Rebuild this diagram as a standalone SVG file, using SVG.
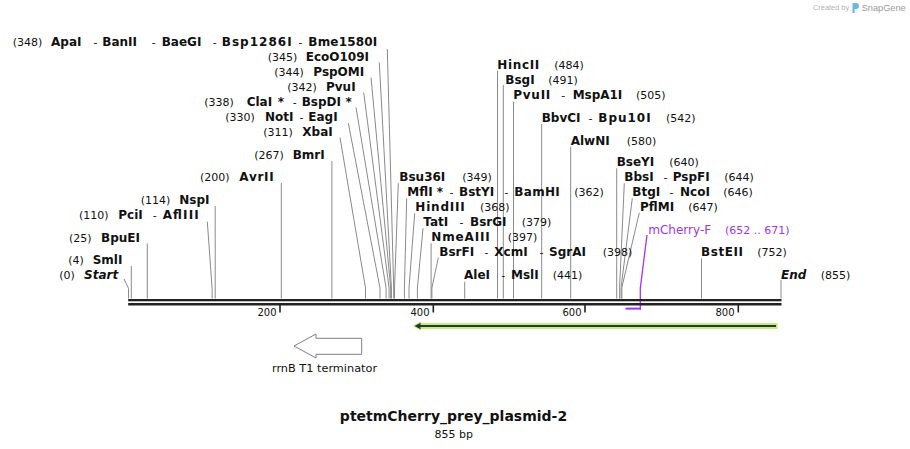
<svg xmlns="http://www.w3.org/2000/svg" width="910" height="449" viewBox="0 0 910 449">
<style>
text{font-family:"DejaVu Sans",Verdana,sans-serif;fill:#111}
.n{font-size:11px}
.b{font-size:12px;font-weight:bold}
.bi{font-size:12px;font-weight:bold;font-style:italic}
.d{font-size:11px}
.tk{font-size:10px}
.cr{font-family:"Liberation Sans",Arial,sans-serif}
.ld{fill:none;stroke:#8a8a8a;stroke-width:1}
.pr{fill:none;stroke:#a035f0;stroke-width:1.3}
</style>
<rect width="910" height="449" fill="#fff"/>

<g id="credit">
<text class="cr" x="813" y="10" style="font-size:7.4px;fill:#b0b0b0">Created by</text>
<path d="M852.5,3 h3.5 a3,3 0 0 1 0,6 h-1.3 v4 h-2.2 z" fill="#6ab8ea"/>
<text class="cr" x="861.7" y="11" style="font-size:9.2px;fill:#9a9a9a">SnapGene</text>
</g>

<g id="connectors">
<polyline class="ld" points="387.3,49 393.7,288 393.7,298.5"/>
<polyline class="ld" points="379.3,62.5 391.4,288 391.4,298.5"/>
<polyline class="ld" points="371,77.5 390.7,288 390.7,298.5"/>
<polyline class="ld" points="363.7,92.5 389.1,288 389.1,298.5"/>
<polyline class="ld" points="356,107.5 386.1,288 386.1,298.5"/>
<polyline class="ld" points="348.3,123 380,288 380,298.5"/>
<polyline class="ld" points="340,137.5 365.5,288 365.5,298.5"/>
<line class="ld" x1="331.9" y1="161" x2="331.9" y2="298.5"/>
<line class="ld" x1="281.3" y1="183" x2="281.3" y2="298.5"/>
<line class="ld" x1="215.2" y1="206" x2="215.2" y2="298.5"/>
<polyline class="ld" points="207.3,221.7 212.1,288.3 212.1,298.5"/>
<line class="ld" x1="147.3" y1="243.5" x2="147.3" y2="298.5"/>
<line class="ld" x1="131.3" y1="266" x2="131.3" y2="298.5"/>
<polyline class="ld" points="124,279 128.5,288.3 128.5,298.5"/>

<line class="ld" x1="497.5" y1="70.7" x2="497.5" y2="298.5"/>
<line class="ld" x1="503.3" y1="85" x2="503.3" y2="298.5"/>
<line class="ld" x1="513.5" y1="101.7" x2="513.5" y2="298.5"/>
<line class="ld" x1="541.7" y1="124" x2="541.7" y2="298.5"/>
<line class="ld" x1="570.7" y1="146.7" x2="570.7" y2="298.5"/>
<line class="ld" x1="616.7" y1="168.3" x2="616.7" y2="298.5"/>
<polyline class="ld" points="624.3,183.3 619.6,287.3 619.6,298.5"/>
<polyline class="ld" points="632.3,198.3 621.1,287.3 621.1,298.5"/>
<polyline class="ld" points="639.3,212.7 621.9,287.3 621.9,298.5"/>
<line class="ld" x1="701.5" y1="258.3" x2="701.5" y2="298.5"/>
<line class="ld" x1="781" y1="280" x2="781" y2="298.5"/>
<polyline class="ld" points="398.3,183.3 394.5,288 394.5,298.5"/>
<polyline class="ld" points="406.7,198.3 404.4,288 404.4,298.5"/>
<polyline class="ld" points="414.7,213.3 409,288 409,298.5"/>
<polyline class="ld" points="423,228.3 417.4,288 417.4,298.5"/>
<line class="ld" x1="431.1" y1="243.3" x2="431.1" y2="298.5"/>
<polyline class="ld" points="438.3,257.7 431.9,288 431.9,298.5"/>
<line class="ld" x1="464.7" y1="281.7" x2="464.7" y2="298.5"/>
<polyline class="pr" points="647,235 640.3,288.3 640.3,309.5"/>
</g>

<g id="sequence-axis">
<rect x="128.2" y="299" width="653.3" height="2.3" fill="#222"/>
<rect x="128.2" y="303" width="653.3" height="2.5" fill="#222"/>
<rect x="279.2" y="305" width="1.6" height="7.5" fill="#222"/>
<rect x="432.5" y="305" width="1.6" height="7.5" fill="#222"/>
<rect x="584.2" y="305" width="1.6" height="7.5" fill="#222"/>
<rect x="737.5" y="305" width="1.6" height="7.5" fill="#222"/>
<text class="tk" x="276.5" y="316" text-anchor="end">200</text>
<text class="tk" x="429.5" y="316" text-anchor="end">400</text>
<text class="tk" x="581.5" y="316" text-anchor="end">600</text>
<text class="tk" x="734.5" y="316" text-anchor="end">800</text>
</g>

<g id="primer-mCherry-F">
<line x1="625.5" y1="308.6" x2="641" y2="308.6" stroke="#a035f0" stroke-width="2"/>
<text x="648.3" y="234" style="font-size:12px;fill:#a035f0">mCherry-F</text>
<text x="725" y="234" style="font-size:11px;fill:#a035f0">(652 .. 671)</text>
</g>

<g id="feature-orf">
<path d="M777.7,326 H419" stroke="#bdf080" stroke-width="6" fill="none"/>
<polygon points="412.5,326 421,321.5 421,330.5" fill="#bdf080"/>
<path d="M776,326 H419" stroke="#333" stroke-width="1.8" fill="none"/>
<polygon points="414.5,326 420.5,322.8 420.5,329.2" fill="#333"/>
</g>

<g id="feature-rrnB">
<polygon points="294,346 316,334 316,338.3 361.7,338.3 361.7,354.3 316,354.3 316,358" fill="#fff" stroke="#808080" stroke-width="1"/>
<text x="324.5" y="371.7" text-anchor="middle" style="font-size:11.3px">rrnB T1 terminator</text>
</g>

<g id="site-348"><text y="45.5"><tspan class="n" x="12.7">(348)</tspan><tspan class="b" x="51">ApaI</tspan><tspan class="d" x="93.4">-</tspan><tspan class="b" x="102.3">BanII</tspan><tspan class="d" x="151.7">-</tspan><tspan class="b" x="161.7">BaeGI</tspan><tspan class="d" x="212.7">-</tspan><tspan class="b" x="221.7" textLength="70">Bsp1286I</tspan><tspan class="d" x="298.4">-</tspan><tspan class="b" x="308.3" textLength="69">Bme1580I</tspan></text></g>
<g id="site-345"><text y="61"><tspan class="n" x="267.7">(345)</tspan><tspan class="b" x="305.7">EcoO109I</tspan></text></g>
<g id="site-344"><text y="76"><tspan class="n" x="274.3">(344)</tspan><tspan class="b" x="313.3">PspOMI</tspan></text></g>
<g id="site-342"><text y="91"><tspan class="n" x="287.3">(342)</tspan><tspan class="b" x="326">PvuI</tspan></text></g>
<g id="site-338"><text y="106"><tspan class="n" x="204.3">(338)</tspan><tspan class="b" x="246.7">ClaI</tspan><tspan class="b" x="277.8">*</tspan><tspan class="d" x="292.7">-</tspan><tspan class="b" x="301.7">BspDI</tspan><tspan class="b" x="345.5">*</tspan></text></g>
<g id="site-330"><text y="121"><tspan class="n" x="225.3">(330)</tspan><tspan class="b" x="265">NotI</tspan><tspan class="d" x="299.5">-</tspan><tspan class="b" x="308.3">EagI</tspan></text></g>
<g id="site-311"><text y="136"><tspan class="n" x="263.3">(311)</tspan><tspan class="b" x="302.3">XbaI</tspan></text></g>
<g id="site-267"><text y="159"><tspan class="n" x="254.3">(267)</tspan><tspan class="b" x="292.7">BmrI</tspan></text></g>
<g id="site-200"><text y="181"><tspan class="n" x="200">(200)</tspan><tspan class="b" x="239.3" textLength="34.5">AvrII</tspan></text></g>
<g id="site-114"><text y="204"><tspan class="n" x="140.7">(114)</tspan><tspan class="b" x="179.3">NspI</tspan></text></g>
<g id="site-110"><text y="219"><tspan class="n" x="79">(110)</tspan><tspan class="b" x="118.3">PciI</tspan><tspan class="d" x="152.7">-</tspan><tspan class="b" x="162.7" textLength="36">AflIII</tspan></text></g>
<g id="site-25"><text y="242"><tspan class="n" x="69">(25)</tspan><tspan class="b" x="101">BpuEI</tspan></text></g>
<g id="site-4"><text y="264"><tspan class="n" x="68.3">(4)</tspan><tspan class="b" x="92.7">SmlI</tspan></text></g>
<g id="site-0"><text y="279"><tspan class="n" x="59.3">(0)</tspan><tspan class="bi" x="84">Start</tspan></text></g>

<g id="site-484"><text y="69"><tspan class="b" x="497.3" textLength="42">HincII</tspan><tspan class="n" x="554.3">(484)</tspan></text></g>
<g id="site-491"><text y="84"><tspan class="b" x="505.3">BsgI</tspan><tspan class="n" x="548.3">(491)</tspan></text></g>
<g id="site-505"><text y="99"><tspan class="b" x="513.3" textLength="37">PvuII</tspan><tspan class="d" x="561.2">-</tspan><tspan class="b" x="572.7" textLength="49.5">MspA1I</tspan><tspan class="n" x="636">(505)</tspan></text></g>
<g id="site-542"><text y="122"><tspan class="b" x="541.7">BbvCI</tspan><tspan class="d" x="588.5">-</tspan><tspan class="b" x="598.3" textLength="52.3">Bpu10I</tspan><tspan class="n" x="666">(542)</tspan></text></g>
<g id="site-580"><text y="144.5"><tspan class="b" x="570.7">AlwNI</tspan><tspan class="n" x="626.7">(580)</tspan></text></g>
<g id="site-640"><text y="166"><tspan class="b" x="616.7">BseYI</tspan><tspan class="n" x="669.3">(640)</tspan></text></g>
<g id="site-644"><text y="181"><tspan class="b" x="624.3">BbsI</tspan><tspan class="d" x="663.5">-</tspan><tspan class="b" x="672.7">PspFI</tspan><tspan class="n" x="724.3">(644)</tspan></text></g>
<g id="site-646"><text y="196"><tspan class="b" x="632.3">BtgI</tspan><tspan class="d" x="669.5">-</tspan><tspan class="b" x="680">NcoI</tspan><tspan class="n" x="723.3">(646)</tspan></text></g>
<g id="site-647"><text y="211"><tspan class="b" x="640">PflMI</tspan><tspan class="n" x="688.3">(647)</tspan></text></g>
<g id="site-752"><text y="256"><tspan class="b" x="701" textLength="42">BstEII</tspan><tspan class="n" x="757.3">(752)</tspan></text></g>
<g id="site-855"><text y="279"><tspan class="bi" x="781">End</tspan><tspan class="n" x="820.7">(855)</tspan></text></g>
<g id="site-349"><text y="181"><tspan class="b" x="399.3">Bsu36I</tspan><tspan class="n" x="462.3">(349)</tspan></text></g>
<g id="site-362"><text y="196"><tspan class="b" x="407.3">MflI</tspan><tspan class="b" x="436.8">*</tspan><tspan class="d" x="449.5">-</tspan><tspan class="b" x="459">BstYI</tspan><tspan class="d" x="504.5">-</tspan><tspan class="b" x="514.3" textLength="45.5">BamHI</tspan><tspan class="n" x="574.3">(362)</tspan></text></g>
<g id="site-368"><text y="211"><tspan class="b" x="415.3" textLength="49.5">HindIII</tspan><tspan class="n" x="480">(368)</tspan></text></g>
<g id="site-379"><text y="226"><tspan class="b" x="423.3">TatI</tspan><tspan class="d" x="459.5">-</tspan><tspan class="b" x="470">BsrGI</tspan><tspan class="n" x="521.7">(379)</tspan></text></g>
<g id="site-397"><text y="241"><tspan class="b" x="431.3" textLength="58.5">NmeAIII</tspan><tspan class="n" x="507.7">(397)</tspan></text></g>
<g id="site-398"><text y="256"><tspan class="b" x="439.3">BsrFI</tspan><tspan class="d" x="484.5">-</tspan><tspan class="b" x="494.3">XcmI</tspan><tspan class="d" x="539.5">-</tspan><tspan class="b" x="549">SgrAI</tspan><tspan class="n" x="602.7">(398)</tspan></text></g>
<g id="site-441"><text y="279"><tspan class="b" x="464">AleI</tspan><tspan class="d" x="501.2">-</tspan><tspan class="b" x="511">MslI</tspan><tspan class="n" x="552.7">(441)</tspan></text></g>

<g id="title">
<text x="453.5" y="421" text-anchor="middle" style="font-size:14px;font-weight:bold">ptetmCherry_prey_plasmid-2</text>
<text x="453.8" y="437.5" text-anchor="middle" style="font-size:11px">855 bp</text>
</g>
</svg>
